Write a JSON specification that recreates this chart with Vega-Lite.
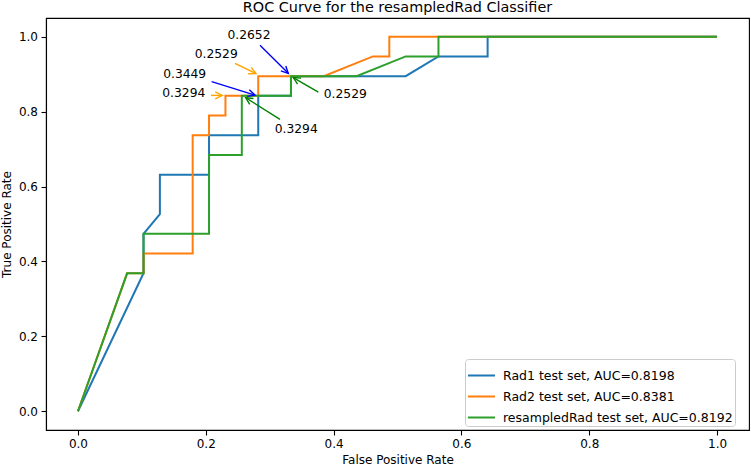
{
  "$schema": "https://vega.github.io/schema/vega-lite/v6.json",
  "width": 703,
  "height": 412,
  "autosize": "none",
  "padding": {"left": 46, "top": 18, "right": 2, "bottom": 36},
  "config": {"font": "DejaVu Sans", "view": {"stroke": "black", "strokeWidth": 1.1},
    "axis": {"grid": false, "tickSize": 5, "tickWidth": 1.1, "domainWidth": 1.1, "labelPadding": 3.5, "titlePadding": 5, "labelFontSize": 12, "titleFontSize": 12, "titleFontWeight": "normal", "domainColor": "black", "tickColor": "black", "labelColor": "black", "titleColor": "black", "labelFlush": false, "labelOverlap": false, "format": ".1f"}},
  "title": {"text": "ROC Curve for the resampledRad Classifier", "fontSize": 14.4, "fontWeight": "normal", "font": "DejaVu Sans", "color": "black", "anchor": "middle", "baseline": "alphabetic", "offset": 0, "dy": 8},
  "datasets": {
    "roc": [
      {"series": "Rad1 test set, AUC=0.8198", "i": 0, "x": 0, "y": 0},
      {"series": "Rad1 test set, AUC=0.8198", "i": 1, "x": 0.1026, "y": 0.3684},
      {"series": "Rad1 test set, AUC=0.8198", "i": 2, "x": 0.1026, "y": 0.4737},
      {"series": "Rad1 test set, AUC=0.8198", "i": 3, "x": 0.1282, "y": 0.5263},
      {"series": "Rad1 test set, AUC=0.8198", "i": 4, "x": 0.1282, "y": 0.6316},
      {"series": "Rad1 test set, AUC=0.8198", "i": 5, "x": 0.2051, "y": 0.6316},
      {"series": "Rad1 test set, AUC=0.8198", "i": 6, "x": 0.2051, "y": 0.7368},
      {"series": "Rad1 test set, AUC=0.8198", "i": 7, "x": 0.2821, "y": 0.7368},
      {"series": "Rad1 test set, AUC=0.8198", "i": 8, "x": 0.2821, "y": 0.8421},
      {"series": "Rad1 test set, AUC=0.8198", "i": 9, "x": 0.3333, "y": 0.8421},
      {"series": "Rad1 test set, AUC=0.8198", "i": 10, "x": 0.3333, "y": 0.8947},
      {"series": "Rad1 test set, AUC=0.8198", "i": 11, "x": 0.5128, "y": 0.8947},
      {"series": "Rad1 test set, AUC=0.8198", "i": 12, "x": 0.5641, "y": 0.9474},
      {"series": "Rad1 test set, AUC=0.8198", "i": 13, "x": 0.641, "y": 0.9474},
      {"series": "Rad1 test set, AUC=0.8198", "i": 14, "x": 0.641, "y": 1},
      {"series": "Rad1 test set, AUC=0.8198", "i": 15, "x": 1, "y": 1},
      {"series": "Rad2 test set, AUC=0.8381", "i": 0, "x": 0, "y": 0},
      {"series": "Rad2 test set, AUC=0.8381", "i": 1, "x": 0.0769, "y": 0.3684},
      {"series": "Rad2 test set, AUC=0.8381", "i": 2, "x": 0.1026, "y": 0.3684},
      {"series": "Rad2 test set, AUC=0.8381", "i": 3, "x": 0.1026, "y": 0.4211},
      {"series": "Rad2 test set, AUC=0.8381", "i": 4, "x": 0.1795, "y": 0.4211},
      {"series": "Rad2 test set, AUC=0.8381", "i": 5, "x": 0.1795, "y": 0.7368},
      {"series": "Rad2 test set, AUC=0.8381", "i": 6, "x": 0.2051, "y": 0.7368},
      {"series": "Rad2 test set, AUC=0.8381", "i": 7, "x": 0.2051, "y": 0.7895},
      {"series": "Rad2 test set, AUC=0.8381", "i": 8, "x": 0.2308, "y": 0.7895},
      {"series": "Rad2 test set, AUC=0.8381", "i": 9, "x": 0.2308, "y": 0.8421},
      {"series": "Rad2 test set, AUC=0.8381", "i": 10, "x": 0.2821, "y": 0.8421},
      {"series": "Rad2 test set, AUC=0.8381", "i": 11, "x": 0.2821, "y": 0.8947},
      {"series": "Rad2 test set, AUC=0.8381", "i": 12, "x": 0.3846, "y": 0.8947},
      {"series": "Rad2 test set, AUC=0.8381", "i": 13, "x": 0.4615, "y": 0.9474},
      {"series": "Rad2 test set, AUC=0.8381", "i": 14, "x": 0.4872, "y": 0.9474},
      {"series": "Rad2 test set, AUC=0.8381", "i": 15, "x": 0.4872, "y": 1},
      {"series": "Rad2 test set, AUC=0.8381", "i": 16, "x": 1, "y": 1},
      {"series": "resampledRad test set, AUC=0.8192", "i": 0, "x": 0, "y": 0},
      {"series": "resampledRad test set, AUC=0.8192", "i": 1, "x": 0.0769, "y": 0.3684},
      {"series": "resampledRad test set, AUC=0.8192", "i": 2, "x": 0.1026, "y": 0.3684},
      {"series": "resampledRad test set, AUC=0.8192", "i": 3, "x": 0.1026, "y": 0.4737},
      {"series": "resampledRad test set, AUC=0.8192", "i": 4, "x": 0.2051, "y": 0.4737},
      {"series": "resampledRad test set, AUC=0.8192", "i": 5, "x": 0.2051, "y": 0.6842},
      {"series": "resampledRad test set, AUC=0.8192", "i": 6, "x": 0.2564, "y": 0.6842},
      {"series": "resampledRad test set, AUC=0.8192", "i": 7, "x": 0.2564, "y": 0.8421},
      {"series": "resampledRad test set, AUC=0.8192", "i": 8, "x": 0.3333, "y": 0.8421},
      {"series": "resampledRad test set, AUC=0.8192", "i": 9, "x": 0.3333, "y": 0.8947},
      {"series": "resampledRad test set, AUC=0.8192", "i": 10, "x": 0.4359, "y": 0.8947},
      {"series": "resampledRad test set, AUC=0.8192", "i": 11, "x": 0.5128, "y": 0.9474},
      {"series": "resampledRad test set, AUC=0.8192", "i": 12, "x": 0.5641, "y": 0.9474},
      {"series": "resampledRad test set, AUC=0.8192", "i": 13, "x": 0.5641, "y": 1},
      {"series": "resampledRad test set, AUC=0.8192", "i": 14, "x": 1, "y": 1}
    ],
    "arrows": [
      {"id": "a1", "series": "Rad1", "label": "0.2652", "tx": 0.2676, "ty": 1.005, "x": 0.2848, "y": 0.9772, "xe": 0.3291, "ye": 0.9023},
      {"id": "a2", "series": "Rad2", "label": "0.2529", "tx": 0.2164, "ty": 0.955, "x": 0.2457, "y": 0.929, "xe": 0.2786, "ye": 0.9015},
      {"id": "a3", "series": "Rad1", "label": "0.3449", "tx": 0.167, "ty": 0.901, "x": 0.2092, "y": 0.88, "xe": 0.277, "ye": 0.8442},
      {"id": "a4", "series": "Rad2", "label": "0.3294", "tx": 0.1656, "ty": 0.851, "x": 0.2081, "y": 0.8434, "xe": 0.2258, "ye": 0.8434},
      {"id": "a5", "series": "resampledRad", "label": "0.2529", "tx": 0.4183, "ty": 0.848, "x": 0.3761, "y": 0.8522, "xe": 0.3369, "ye": 0.8908},
      {"id": "a6", "series": "resampledRad", "label": "0.3294", "tx": 0.3415, "ty": 0.753, "x": 0.3161, "y": 0.7791, "xe": 0.2624, "ye": 0.8372}
    ]
  },
  "layer": [
    {
      "data": {"name": "roc"},
      "mark": {"type": "line", "strokeWidth": 2},
      "encoding": {
        "x": {"field": "x", "type": "quantitative", "scale": {"domain": [-0.05, 1.05], "nice": false, "zero": false},
          "axis": {"title": "False Positive Rate", "values": [0, 0.2, 0.4, 0.6, 0.8, 1.0]}},
        "y": {"field": "y", "type": "quantitative", "scale": {"domain": [-0.05, 1.05], "nice": false, "zero": false},
          "axis": {"title": "True Positive Rate", "values": [0, 0.2, 0.4, 0.6, 0.8, 1.0]}},
        "color": {"field": "series", "type": "nominal",
          "scale": {"domain": ["Rad1 test set, AUC=0.8198", "Rad2 test set, AUC=0.8381", "resampledRad test set, AUC=0.8192"], "range": ["#1f77b4", "#ff7f0e", "#2ca02c"]},
          "legend": {"title": null, "orient": "none", "legendX": 419, "legendY": 341, "symbolType": "stroke", "symbolSize": 729, "symbolStrokeWidth": 2, "labelFontSize": 12.5, "labelColor": "black", "labelOffset": 7, "padding": 2, "rowPadding": -6.5, "strokeColor": "#cccccc", "cornerRadius": 3, "fillColor": "rgba(255,255,255,0.8)", "labelLimit": 400}},
        "order": {"field": "i", "type": "quantitative"}
      }
    },
    {
      "data": {"name": "arrows"},
      "mark": {"type": "rule", "strokeWidth": 1.4},
      "encoding": {
        "x": {"field": "x", "type": "quantitative", "scale": {"domain": [-0.05, 1.05], "nice": false, "zero": false}, "axis": {"title": "False Positive Rate", "values": [0, 0.2, 0.4, 0.6, 0.8, 1.0]}},
        "y": {"field": "y", "type": "quantitative", "scale": {"domain": [-0.05, 1.05], "nice": false, "zero": false}, "axis": {"title": "True Positive Rate", "values": [0, 0.2, 0.4, 0.6, 0.8, 1.0]}},
        "x2": {"field": "xe"},
        "y2": {"field": "ye"},
        "stroke": {"field": "series", "type": "nominal", "scale": {"domain": ["Rad1", "Rad2", "resampledRad"], "range": ["#0000ff", "#ffa500", "#008000"]}, "legend": null}
      }
    },
    {
      "data": {"name": "arrows"},
      "mark": {"type": "text", "fontSize": 12.3, "align": "center", "baseline": "middle", "color": "black"},
      "encoding": {
        "x": {"field": "tx", "type": "quantitative", "axis": {"title": "False Positive Rate", "values": [0, 0.2, 0.4, 0.6, 0.8, 1.0]}},
        "y": {"field": "ty", "type": "quantitative", "axis": {"title": "True Positive Rate", "values": [0, 0.2, 0.4, 0.6, 0.8, 1.0]}},
        "text": {"field": "label"}
      }
    },
    {
      "data": {"name": "arrows"},
      "transform": [{"filter": "datum.id == 'a1'"}],
      "mark": {"type": "point", "shape": "M-2,-1L0,0L-2,1", "size": 49, "filled": false, "strokeWidth": 1.4, "opacity": 1, "angle": 44.7},
      "encoding": {"x": {"field": "xe", "type": "quantitative", "axis": {"title": "False Positive Rate", "values": [0, 0.2, 0.4, 0.6, 0.8, 1.0]}}, "y": {"field": "ye", "type": "quantitative", "axis": {"title": "True Positive Rate", "values": [0, 0.2, 0.4, 0.6, 0.8, 1.0]}}, "stroke": {"field": "series", "type": "nominal", "legend": null}}
    },
    {
      "data": {"name": "arrows"},
      "transform": [{"filter": "datum.id == 'a2'"}],
      "mark": {"type": "point", "shape": "M-2,-1L0,0L-2,1", "size": 49, "filled": false, "strokeWidth": 1.4, "opacity": 1, "angle": 26.1},
      "encoding": {"x": {"field": "xe", "type": "quantitative", "axis": {"title": "False Positive Rate", "values": [0, 0.2, 0.4, 0.6, 0.8, 1.0]}}, "y": {"field": "ye", "type": "quantitative", "axis": {"title": "True Positive Rate", "values": [0, 0.2, 0.4, 0.6, 0.8, 1.0]}}, "stroke": {"field": "series", "type": "nominal", "legend": null}}
    },
    {
      "data": {"name": "arrows"},
      "transform": [{"filter": "datum.id == 'a3'"}],
      "mark": {"type": "point", "shape": "M-2,-1L0,0L-2,1", "size": 49, "filled": false, "strokeWidth": 1.4, "opacity": 1, "angle": 17.2},
      "encoding": {"x": {"field": "xe", "type": "quantitative", "axis": {"title": "False Positive Rate", "values": [0, 0.2, 0.4, 0.6, 0.8, 1.0]}}, "y": {"field": "ye", "type": "quantitative", "axis": {"title": "True Positive Rate", "values": [0, 0.2, 0.4, 0.6, 0.8, 1.0]}}, "stroke": {"field": "series", "type": "nominal", "legend": null}}
    },
    {
      "data": {"name": "arrows"},
      "transform": [{"filter": "datum.id == 'a4'"}],
      "mark": {"type": "point", "shape": "M-2,-1L0,0L-2,1", "size": 49, "filled": false, "strokeWidth": 1.4, "opacity": 1, "angle": 0},
      "encoding": {"x": {"field": "xe", "type": "quantitative", "axis": {"title": "False Positive Rate", "values": [0, 0.2, 0.4, 0.6, 0.8, 1.0]}}, "y": {"field": "ye", "type": "quantitative", "axis": {"title": "True Positive Rate", "values": [0, 0.2, 0.4, 0.6, 0.8, 1.0]}}, "stroke": {"field": "series", "type": "nominal", "legend": null}}
    },
    {
      "data": {"name": "arrows"},
      "transform": [{"filter": "datum.id == 'a5'"}],
      "mark": {"type": "point", "shape": "M-2,-1L0,0L-2,1", "size": 49, "filled": false, "strokeWidth": 1.4, "opacity": 1, "angle": 209.9},
      "encoding": {"x": {"field": "xe", "type": "quantitative", "axis": {"title": "False Positive Rate", "values": [0, 0.2, 0.4, 0.6, 0.8, 1.0]}}, "y": {"field": "ye", "type": "quantitative", "axis": {"title": "True Positive Rate", "values": [0, 0.2, 0.4, 0.6, 0.8, 1.0]}}, "stroke": {"field": "series", "type": "nominal", "legend": null}}
    },
    {
      "data": {"name": "arrows"},
      "transform": [{"filter": "datum.id == 'a6'"}],
      "mark": {"type": "point", "shape": "M-2,-1L0,0L-2,1", "size": 49, "filled": false, "strokeWidth": 1.4, "opacity": 1, "angle": 212.3},
      "encoding": {"x": {"field": "xe", "type": "quantitative", "axis": {"title": "False Positive Rate", "values": [0, 0.2, 0.4, 0.6, 0.8, 1.0]}}, "y": {"field": "ye", "type": "quantitative", "axis": {"title": "True Positive Rate", "values": [0, 0.2, 0.4, 0.6, 0.8, 1.0]}}, "stroke": {"field": "series", "type": "nominal", "legend": null}}
    }
  ]
}
